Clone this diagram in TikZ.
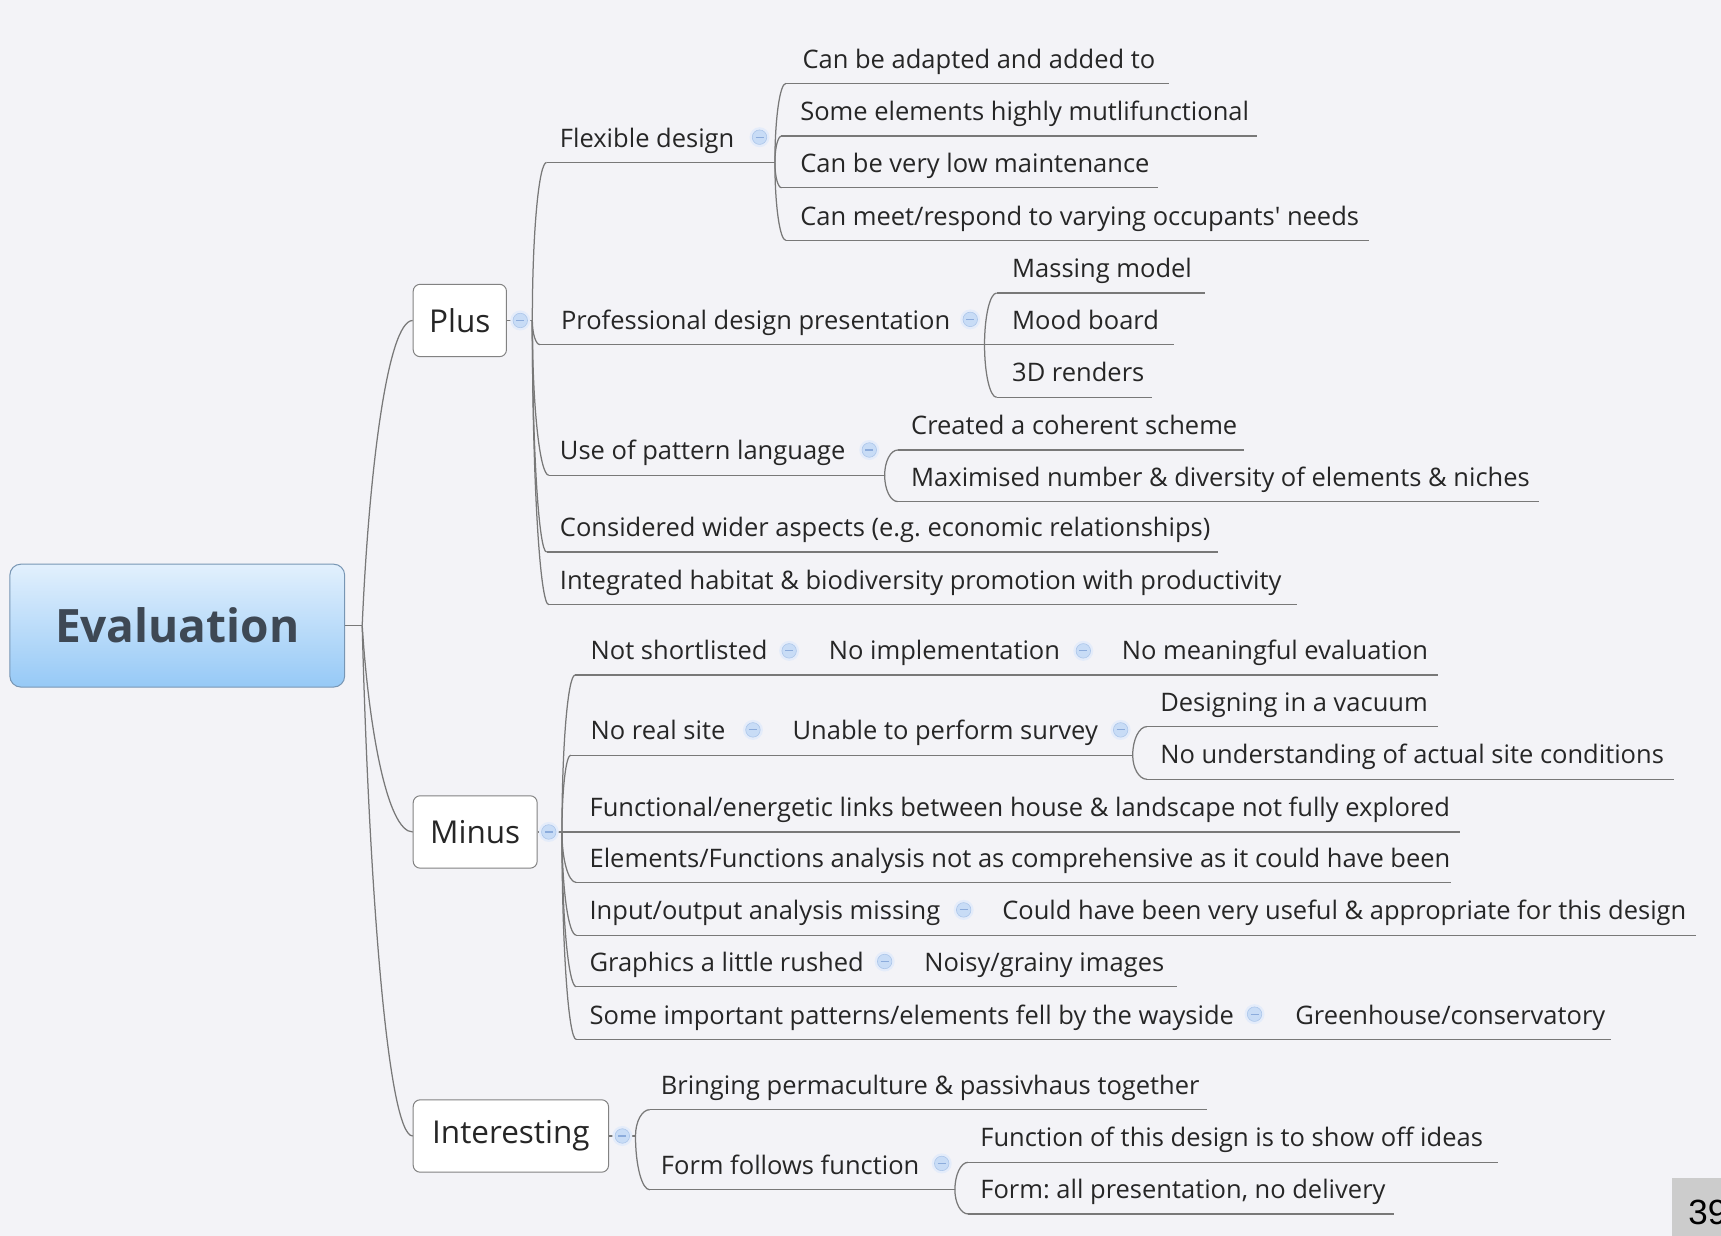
\documentclass[tikz,border=0pt]{standalone}
\usepackage{fontspec}
\setmainfont{Open Sans}
\newfontfamily\pagenumfont{Liberation Sans}
\usetikzlibrary{calc}
\definecolor{bg}{RGB}{243,243,247}
\definecolor{ln}{RGB}{120,120,120}
\definecolor{tx}{RGB}{38,38,38}
\definecolor{ctop}{RGB}{226,240,253}
\definecolor{cbot}{RGB}{150,201,246}
\definecolor{rootbd}{RGB}{120,150,180}
\definecolor{rootx}{RGB}{62,72,84}
\definecolor{boxbd}{RGB}{130,130,130}
\definecolor{cfill}{RGB}{200,220,246}
\definecolor{cdraw}{RGB}{172,198,234}
\definecolor{cbar}{RGB}{140,172,220}
\definecolor{chalo}{RGB}{228,236,250}
\definecolor{pgbox}{RGB}{204,204,204}

% name, text x, underline y, underline start x, underline end x, text
\newcommand\mmtopic[6]{%
  \coordinate (#1-s) at (#4,#3);
  \coordinate (#1-e) at (#5,#3);
  \draw[uline] (#1-s) -- (#1-e);
  \node[topictext] (#1) at (#2,#3-14) {#6};
}
\newcommand\mmlink[2]{%
  \draw[conn] (#1) .. controls ($(#1)!0.55!(#1|-#2-s)$) and ($(#1|-#2-s)!0.45!(#2-s)$) .. (#2-s);
}
\newcommand\mmtrunk[2]{%
  \draw[conn] (#1) .. controls ($(#1)!0.5!(#1|-#2)+(6,0)$) and ($(#1|-#2)!0.5!(#2)$) .. (#2);
}
\newcommand\mmcollapse[3]{%
  \fill[chalo] (#2,#3) circle[radius=10pt];
  \node[collapse] (#1) at (#2,#3) {};
}

\begin{document}
\begin{tikzpicture}[x=1.0976pt,y=-1.0976pt,
  conn/.style={draw=ln, line width=1.25pt},
  uline/.style={draw=ln, line width=1.25pt},
  topictext/.style={anchor=base west, inner sep=0pt, text=tx, font=\fontsize{25.5}{30}\selectfont\frenchspacing},
  rootbox/.style={rectangle, rounded corners=11pt, minimum width=334.8pt, minimum height=122.9pt,
    draw=rootbd, line width=1pt, top color=ctop, bottom color=cbot, text=rootx,
    font=\bfseries\fontsize{46}{50}\selectfont},
  mainbox/.style={rectangle, rounded corners=7pt, draw=boxbd, fill=white, line width=1pt,
    minimum height=72.4pt, anchor=west, text=tx, font=\fontsize{31.5}{36}\selectfont},
  collapse/.style={circle, inner sep=0pt, minimum size=14.5pt, fill=cfill, draw=cdraw, line width=0.6pt,
    path picture={\draw[cbar, line width=1.1pt] ([xshift=-4pt]path picture bounding box.center) -- ([xshift=4pt]path picture bounding box.center);}}
]
\useasboundingbox (0,0) rectangle (1568,1126);
\fill[bg] (0,0) rectangle (1568,1126);

% root and main branches
\node[rootbox] (root) at (161.5,570) {Evaluation};
\node[mainbox, minimum width=93.3pt] (plus) at (376,292) {Plus};
\node[mainbox, minimum width=124pt] (minus) at (376,758) {Minus};
\node[mainbox, minimum width=195.4pt] (interesting) at (376,1035) {Interesting};

\coordinate (T) at (330,570);
\draw[conn] (root.east) -- (T);
\mmtrunk{T}{plus.west}
\mmtrunk{T}{minus.west}
\mmtrunk{T}{interesting.west}

\coordinate (jp) at (485,292);
\coordinate (jm) at (512,758);
\coordinate (ji) at (579,1035);
\draw[conn] (plus.east) -- (jp);
\draw[conn] (minus.east) -- (jm);
\draw[conn] (interesting.east) -- (ji);

% Plus
\mmtopic{fd}{510}{148}{498}{706}{Flexible design}
\mmtopic{fda}{731}{76}{716}{1065}{Can be adapted and added to}
\mmtopic{fdb}{729}{124}{712}{1145}{Some elements highly mutlifunctional}
\mmtopic{fdc}{729}{171}{712}{1055}{Can be very low maintenance}
\mmtopic{fdd}{729}{219}{716}{1247}{Can meet/respond to varying occupants\textquotesingle{} needs}
\mmtopic{pd}{511}{314}{492}{897}{Professional design presentation}
\mmtopic{pda}{922}{267}{908}{1098}{Massing model}
\mmtopic{pdb}{922}{314}{897}{1070}{Mood board}
\mmtopic{pdc}{922}{362}{908}{1050}{3D renders}
\mmtopic{up}{510}{433}{500}{806}{Use of pattern language}
\mmtopic{upa}{830}{410}{818}{1133}{Created a coherent scheme}
\mmtopic{upb}{830}{457}{818}{1402}{Maximised number \& diversity of elements \& niches}
\mmtopic{cw}{510}{503}{498}{1110}{Considered wider aspects (e.g. economic relationships)}
\mmtopic{ih}{510}{551}{500}{1182}{Integrated habitat \& biodiversity promotion with productivity}

\mmlink{jp}{fd}
\mmlink{jp}{pd}
\mmlink{jp}{up}
\mmlink{jp}{cw}
\mmlink{jp}{ih}
\mmlink{fd-e}{fda}
\mmlink{fd-e}{fdb}
\mmlink{fd-e}{fdc}
\mmlink{fd-e}{fdd}
\mmlink{pd-e}{pda}
\mmlink{pd-e}{pdb}
\mmlink{pd-e}{pdc}
\mmlink{up-e}{upa}
\mmlink{up-e}{upb}

% Minus
\mmtopic{ns}{538}{615}{524}{1310}{Not shortlisted}
\node[topictext] (nsb) at (755,601) {No implementation};
\node[topictext] (nsc) at (1022,601) {No meaningful evaluation};
\mmtopic{nr}{538}{688}{520}{1032}{No real site}
\node[topictext] (nrsurvey) at (722,674) {Unable to perform survey};
\mmtopic{nra}{1057}{662}{1045}{1310}{Designing in a vacuum}
\mmtopic{nrb}{1057}{710}{1045}{1525}{No understanding of actual site conditions}
\mmtopic{fe}{537}{758}{512}{1330}{Functional/energetic links between house \& landscape not fully explored}
\mmtopic{ef}{537}{804}{525}{1322}{Elements/Functions analysis not as comprehensive as it could have been}
\mmtopic{io}{537}{852}{525}{1545}{Input/output analysis missing}
\node[topictext] (iob) at (913,838) {Could have been very useful \& appropriate for this design};
\mmtopic{gr}{537}{899}{525}{1072}{Graphics a little rushed}
\node[topictext] (grb) at (842,885) {Noisy/grainy images};
\mmtopic{si}{537}{947}{525}{1468}{Some important patterns/elements fell by the wayside}
\node[topictext] (sib) at (1180,933) {Greenhouse/conservatory};

\mmlink{jm}{ns}
\mmlink{jm}{nr}
\mmlink{jm}{fe}
\mmlink{jm}{ef}
\mmlink{jm}{io}
\mmlink{jm}{gr}
\mmlink{jm}{si}
\mmlink{nr-e}{nra}
\mmlink{nr-e}{nrb}

% Interesting
\mmtopic{bp}{602}{1011}{592}{1100}{Bringing permaculture \& passivhaus together}
\mmtopic{ff}{602}{1084}{592}{870}{Form follows function}
\mmtopic{ffa}{893}{1059}{882}{1365}{Function of this design is to show off ideas}
\mmtopic{ffb}{893}{1106}{882}{1270}{Form: all presentation, no delivery}
\mmlink{ji}{bp}
\mmlink{ji}{ff}
\mmlink{ff-e}{ffa}
\mmlink{ff-e}{ffb}

% collapse markers
\mmcollapse{c1}{474}{292}
\mmcollapse{c2}{500}{758}
\mmcollapse{c3}{567}{1035}
\mmcollapse{c4}{692}{125}
\mmcollapse{c5}{884}{291}
\mmcollapse{c6}{792}{410}
\mmcollapse{c7}{719}{593}
\mmcollapse{c8}{987}{593}
\mmcollapse{c9}{686}{665}
\mmcollapse{c10}{1021}{665}
\mmcollapse{c11}{878}{829}
\mmcollapse{c12}{806}{876}
\mmcollapse{c13}{1143}{924}
\mmcollapse{c14}{858}{1060}

% page number
\begin{scope}
  \clip (1523,1073) rectangle (1568,1126);
  \fill[pgbox] (1523,1073) rectangle (1568,1126);
  \node[anchor=base west, inner sep=0pt, font=\pagenumfont\fontsize{35}{40}\selectfont] (pagenum) at (1538,1116) {39};
\end{scope}
\end{tikzpicture}
\end{document}
